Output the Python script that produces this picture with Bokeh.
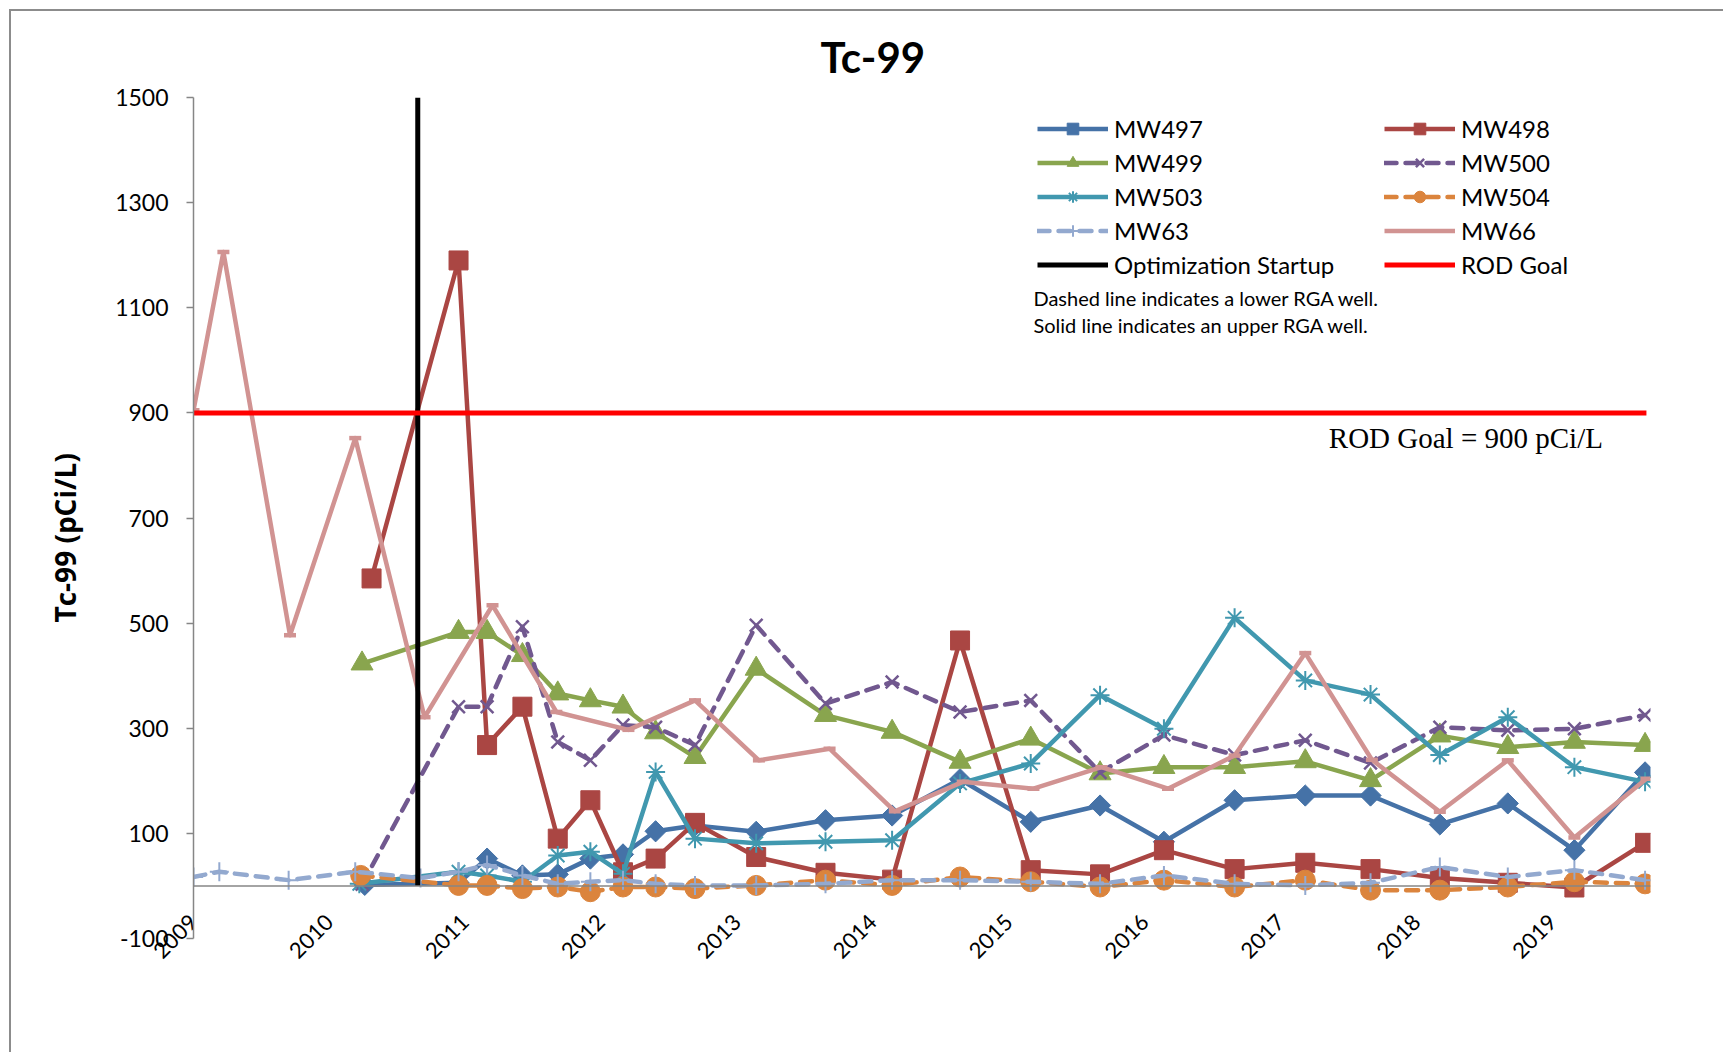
import math
from bokeh.plotting import figure
from bokeh.models import Range1d, FixedTicker, Span, Label, Legend, LegendItem, Title
from bokeh.embed import file_html
from bokeh.resources import INLINE

# ---------------- data ----------------
years = [2009, 2010, 2011, 2012, 2013, 2014, 2015, 2016, 2017, 2018, 2019]
year_labels = [str(y) for y in years]
y_ticks = [-100, 100, 300, 500, 700, 900, 1100, 1300, 1500]
y_tick_labels = ["-100", "100", "300", "500", "700", "900", "1100", "1300", "1500"]

common_dates = [2010.95, 2011.16, 2011.42, 2011.68, 2011.92, 2012.16, 2012.40, 2012.69,
                2013.14, 2013.65, 2014.14, 2014.64, 2015.16, 2015.67, 2016.14, 2016.66,
                2017.18, 2017.66, 2018.17, 2018.67, 2019.16, 2019.68]

mw497_dates = [2010.26] + common_dates
mw497_vals = [2, 6, 52, 20, 22, 52, 60, 104, 115, 103, 125, 134, 203, 122, 153, 84,
              163, 172, 172, 117, 157, 68, 216]

mw498_dates = [2010.31] + common_dates
mw498_vals = [585, 1190, 268, 341, 90, 163, 26, 52, 120, 55, 25, 12, 467, 30, 22, 68,
              32, 44, 32, 15, 6, -3, 82]

mw499_dates = [2010.24] + common_dates
mw499_vals = [423, 483, 483, 439, 366, 353, 341, 292, 245, 413, 325, 293, 236, 280, 214,
              226, 226, 237, 201, 286, 264, 274, 268]

mw500_dates = [2010.24] + common_dates
mw500_vals = [3, 341, 341, 493, 274, 239, 306, 302, 268, 496, 347, 388, 331, 353, 216,
              287, 249, 277, 234, 302, 296, 299, 325]

mw503_dates = [2010.22] + common_dates
mw503_vals = [4, 27, 20, 8, 58, 65, 23, 217, 90, 81, 84, 87, 195, 233, 363, 299, 510,
              391, 364, 249, 321, 226, 198]

mw504_dates = [2010.23] + common_dates
mw504_vals = [20, 1, 1, -5, -2, -11, -2, -2, -5, 1, 11, 1, 17, 8, -2, 11, -2, 11, -8,
              -8, -2, 8, 4]

mw63_dates = [2009.0, 2009.19, 2009.70, 2010.19, 2010.67] + common_dates
mw63_vals = [17, 27, 11, 27, 15, 27, 40, 20, 4, 8, 11, 4, 1, 1, 4, 11, 11, 8, 4, 20, 4,
             1, 6, 36, 17, 30, 11]

mw66_dates = [2009.0, 2009.22, 2009.71, 2010.19, 2010.70, 2011.20, 2011.67, 2012.20,
              2012.69, 2013.16, 2013.68, 2014.16, 2014.66, 2015.18, 2015.68, 2016.17,
              2016.66, 2017.18, 2017.67, 2018.17, 2018.67, 2019.16, 2019.69]
mw66_vals = [905, 1206, 477, 852, 321, 534, 331, 297, 353, 239, 261, 142, 198, 185, 226,
             185, 248, 443, 240, 141, 239, 92, 204]

startup_x = [2010.65, 2010.65]
startup_y = [0, 1500]
rod_goal_x = [2009.0, 2019.69]
rod_goal_y = [900, 900]

# ---------------- figure ----------------
p = figure(width=1714, height=1043, output_backend="svg", toolbar_location=None,
           x_range=Range1d(2009, 2019.72), y_range=Range1d(-100, 1500),
           min_border_left=182, min_border_right=75, min_border_top=86,
           min_border_bottom=116, margin=(9, 0, 0, 9))
p.styles = {"border-left": "2px solid #8c8c8c", "border-top": "2px solid #8c8c8c"}
p.outline_line_color = None
p.grid.visible = False
p.background_fill_color = "white"
p.border_fill_color = "white"

p.title.text = "Tc-99"
p.title.align = "left"
p.title.offset = 627
p.title.standoff = 32
p.title.text_font = "Lato"
p.title.text_font_size = "42px"
p.title.text_font_style = "bold"
p.title.text_color = "black"

AX = "#868686"
p.yaxis.ticker = FixedTicker(ticks=y_ticks)
p.yaxis.major_label_overrides = {t: lab for t, lab in zip(y_ticks, y_tick_labels)}
p.yaxis.axis_line_color = AX
p.yaxis.axis_line_width = 1.5
p.yaxis.major_tick_line_color = AX
p.yaxis.major_tick_line_width = 1.5
p.yaxis.major_tick_out = 7
p.yaxis.major_tick_in = 0
p.yaxis.minor_tick_line_color = None
p.yaxis.major_label_text_font = "Lato"
p.yaxis.major_label_text_font_size = "23px"
p.yaxis.major_label_text_color = "black"
p.yaxis.major_label_standoff = 18

p.add_layout(Title(text="Tc-99 (pCi/L)", align="left", offset=316, standoff=58,
                   text_font="Open Sans", text_font_size="28px", text_font_style="bold",
                   text_color="black"), "left")

p.xaxis.ticker = FixedTicker(ticks=years)
p.xaxis.major_label_overrides = {y: lab for y, lab in zip(years, year_labels)}
p.xaxis.major_label_orientation = math.pi / 4
p.xaxis.axis_line_color = None
p.xaxis.major_tick_line_color = None
p.xaxis.minor_tick_line_color = None
p.xaxis.major_tick_out = 0
p.xaxis.major_tick_in = 0
p.xaxis.major_label_standoff = -20
p.xaxis.major_label_text_font = "Lato"
p.xaxis.major_label_text_font_size = "22px"
p.xaxis.major_label_text_color = "black"

p.add_layout(Span(location=0, dimension="width", line_color=AX, line_width=1.5))

LW = 4.5
DASH = "12 9"


def series(xs, ys, color, marker, size, dashed=False, mlw=1.0, fill=True, angle=0.0):
    line = p.line(xs, ys, line_color=color, line_width=LW, line_join="round",
                  line_cap="round" if dashed else "butt",
                  line_dash=DASH if dashed else "solid")
    mk = p.scatter(xs, ys, marker=marker, size=size, angle=angle,
                   line_color=color, line_width=mlw,
                   fill_color=color if fill else None)
    return line, mk


r497 = series(mw497_dates, mw497_vals, "#4572A7", "square", 15, angle=math.pi / 4)
r498 = series(mw498_dates, mw498_vals, "#AA4643", "square", 19)
r499 = series(mw499_dates, mw499_vals, "#89A54E", "triangle", 22)
r500 = series(mw500_dates, mw500_vals, "#71588F", "x", 18, dashed=True, mlw=2.5, fill=False)
r503 = series(mw503_dates, mw503_vals, "#4198AF", "asterisk", 19, mlw=2.0, fill=False)
r504 = series(mw504_dates, mw504_vals, "#DB843D", "circle", 20, dashed=True)
r63 = series(mw63_dates, mw63_vals, "#93A9CF", "cross", 19, dashed=True, mlw=2.0, fill=False)
r66 = series(mw66_dates, mw66_vals, "#D19392", "dash", 12, mlw=4.5, fill=False)

r_start = p.line(startup_x, startup_y, line_color="black", line_width=5)
r_rod = p.line(rod_goal_x, rod_goal_y, line_color="#FF0000", line_width=5)

leg_kw = dict(orientation="vertical", glyph_width=71, glyph_height=29, label_height=29,
              spacing=5, label_standoff=6, padding=0, margin=0,
              border_line_color=None, background_fill_alpha=0,
              label_text_font="Lato", label_text_font_size="24px",
              label_text_color="black")
leg1 = Legend(items=[LegendItem(label="MW497", renderers=list(r497)),
                     LegendItem(label="MW499", renderers=list(r499)),
                     LegendItem(label="MW503", renderers=list(r503)),
                     LegendItem(label="MW63", renderers=list(r63)),
                     LegendItem(label="Optimization Startup", renderers=[r_start])],
              location=(844, 659), **leg_kw)
leg2 = Legend(items=[LegendItem(label="MW498", renderers=list(r498)),
                     LegendItem(label="MW500", renderers=list(r500)),
                     LegendItem(label="MW504", renderers=list(r504)),
                     LegendItem(label="MW66", renderers=[r66[0]]),
                     LegendItem(label="ROD Goal", renderers=[r_rod])],
              location=(1191, 659), **leg_kw)
p.add_layout(leg1)
p.add_layout(leg2)

p.add_layout(Label(x=2015.18, y=1118, text="Dashed line indicates a lower RGA well.",
                   text_font="Lato", text_font_size="20px", text_align="left",
                   text_baseline="middle", text_color="black"))
p.add_layout(Label(x=2015.18, y=1068, text="Solid line indicates an upper RGA well.",
                   text_font="Lato", text_font_size="20px", text_align="left",
                   text_baseline="middle", text_color="black"))
p.add_layout(Label(x=2019.37, y=852, text="ROD Goal = 900 pCi/L",
                   text_font="Liberation Serif", text_font_size="29px",
                   text_align="right", text_baseline="middle", text_color="black"))

open("out.html", "w").write(file_html(p, INLINE))
